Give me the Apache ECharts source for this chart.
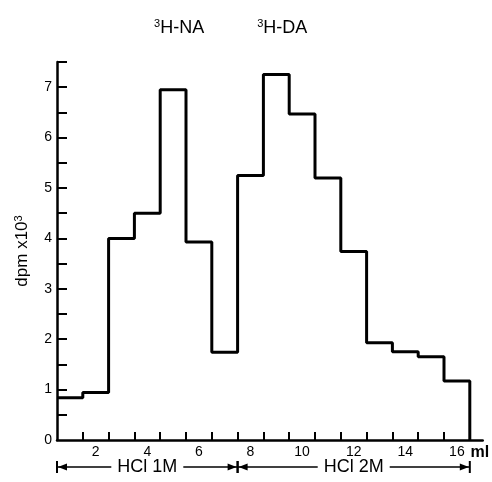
<!DOCTYPE html>
<html><head><meta charset="utf-8">
<script src="https://cdn.jsdelivr.net/npm/echarts@6/dist/echarts.min.js"></script>
<style>html,body{margin:0;padding:0;background:#fff}#c{width:492px;height:482px}</style>
</head><body><div id="c"></div>
<script>
// Fraction numbers (ml) and measured radioactivity (dpm x 10^3)
const fractions = [1, 2, 3, 4, 5, 6, 7, 8, 9, 10, 11, 12, 13, 14, 15, 16];
const dpm = [0.84, 0.94, 4.0, 4.5, 6.95, 3.93, 1.74, 5.25, 7.25, 6.47, 5.2, 3.74, 1.93, 1.75, 1.65, 1.17];
// Axis ticks / labels
const xTicks = [1.5, 2.5, 3.5, 4.5, 5.5, 6.5, 7.5, 8.5, 9.5, 10.5, 11.5, 12.5, 13.5, 14.5, 15.5, 16.5];
const xTickLabels = [2, 4, 6, 8, 10, 12, 14, 16];
const yTicks = [0.5, 1, 1.5, 2, 2.5, 3, 3.5, 4, 4.5, 5, 5.5, 6, 6.5, 7, 7.5];
const yTickLabels = [0, 1, 2, 3, 4, 5, 6, 7];
// Peak annotations
const peakNames = ['H-NA', 'H-DA'];
const peakFractions = [5, 9];
// Eluent annotations
const eluentNames = ['HCl 1M', 'HCl 2M'];
const eluentStart = [0.5, 7.5];
const eluentEnd = [7.5, 16.5];

const FONT = "'Liberation Sans', Arial, sans-serif";
const chart = echarts.init(document.getElementById('c'), null, {renderer: 'canvas'});

// step outline: each fraction spans [f-0.5, f+0.5]
const stepData = fractions.map((f, i) => [f - 0.5, dpm[i]]);
stepData.push([fractions[fractions.length - 1] + 0.5, 0]);

chart.setOption({
  animation: false,
  backgroundColor: '#fff',
  grid: {left: 57, right: 5, top: 62, bottom: 42, containLabel: false},
  xAxis: {
    type: 'value', min: 0.5, max: 17,
    axisLine: {lineStyle: {color: '#000', width: 2.5}},
    axisTick: {show: true, inside: true, length: 8, customValues: xTicks, lineStyle: {color: '#000', width: 2}},
    axisLabel: {customValues: xTickLabels, color: '#000', fontSize: 14, fontFamily: FONT, margin: 5},
    splitLine: {show: false},
    name: 'ml', nameLocation: 'end', nameGap: -8,
    nameTextStyle: {color: '#000', fontSize: 16, fontFamily: FONT, fontWeight: 'bold', align: 'center', verticalAlign: 'top', padding: [5, 0, 0, 0]}
  },
  yAxis: {
    type: 'value', min: 0, max: 7.5,
    axisLine: {show: true, lineStyle: {color: '#000', width: 2.5}},
    axisTick: {show: true, inside: true, length: 10, customValues: yTicks, lineStyle: {color: '#000', width: 2}},
    axisLabel: {customValues: yTickLabels, color: '#000', fontSize: 14, fontFamily: FONT, margin: 5},
    splitLine: {show: false},
    name: 'dpm x10{s|3}', nameLocation: 'middle', nameGap: 25, nameRotate: 90,
    nameTextStyle: {color: '#000', fontSize: 17, fontFamily: FONT,
      rich: {s: {fontSize: 11, verticalAlign: 'top', padding: [0, 0, 8, 0], fontFamily: FONT, color: '#000'}}}
  },
  series: [{
    type: 'line', step: 'end', data: stepData, symbol: 'none',
    lineStyle: {color: '#000', width: 3}
  }]
});

function build() {
  const g = [];
  const yArrow = 467;
  for (let i = 0; i < eluentNames.length; i++) {
    const xs = chart.convertToPixel({gridIndex: 0}, [eluentStart[i], 0])[0];
    const xe = chart.convertToPixel({gridIndex: 0}, [eluentEnd[i], 0])[0];
    g.push({type: 'line', shape: {x1: xs, y1: yArrow, x2: xe, y2: yArrow}, style: {stroke: '#000', lineWidth: 1.5}});
    g.push({type: 'line', shape: {x1: xs, y1: yArrow - 6, x2: xs, y2: yArrow + 6}, style: {stroke: '#000', lineWidth: 2}});
    g.push({type: 'line', shape: {x1: xe, y1: yArrow - 6, x2: xe, y2: yArrow + 6}, style: {stroke: '#000', lineWidth: 2}});
    g.push({type: 'polygon', shape: {points: [[xs + 1, yArrow], [xs + 10, yArrow - 3.5], [xs + 10, yArrow + 3.5]]}, style: {fill: '#000'}});
    g.push({type: 'polygon', shape: {points: [[xe - 1, yArrow], [xe - 10, yArrow - 3.5], [xe - 10, yArrow + 3.5]]}, style: {fill: '#000'}});
    g.push({type: 'text', x: (xs + xe) / 2, y: yArrow, z: 10,
      style: {text: eluentNames[i], fill: '#000', font: '18px ' + FONT, align: 'center', verticalAlign: 'middle',
        backgroundColor: '#fff', padding: [0, 6]}});
  }
  for (let i = 0; i < peakNames.length; i++) {
    const xp = chart.convertToPixel({gridIndex: 0}, [peakFractions[i], 0])[0];
    g.push({type: 'text', x: xp + 6, y: 28,
      style: {text: '{s|3}' + peakNames[i], fill: '#000', fontSize: 18, fontFamily: FONT, align: 'center', verticalAlign: 'middle',
        rich: {s: {fontSize: 11, fontFamily: FONT, fill: '#000', verticalAlign: 'top', padding: [0, 0, 9, 0]}}}});
  }
  chart.setOption({graphic: g});
}
build();
</script></body></html>
